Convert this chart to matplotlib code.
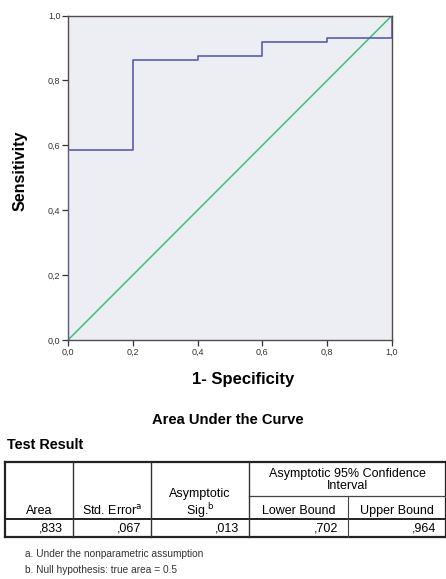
import matplotlib.pyplot as plt
from matplotlib.ticker import FuncFormatter

plt.rcParams['font.family'] = ['Liberation Sans', 'DejaVu Sans']

# ROC curve points (1 - specificity, sensitivity)
fpr = [0.0, 0.0, 0.2, 0.4, 0.6, 0.8, 1.0]
tpr = [0.0, 0.586, 0.862, 0.875, 0.917, 0.931, 1.0]
ticks = [0.0, 0.2, 0.4, 0.6, 0.8, 1.0]

# AUC table
col_heads = ['Area', 'Std. Error', 'Asymptotic\nSig.', 'Lower Bound', 'Upper Bound']
col_sup = ['', 'a', 'b', '', '']
ci_head = 'Asymptotic 95% Confidence\nInterval'
row_vals = [',833', ',067', ',013', ',702', ',964']
footnotes = ['a. Under the nonparametric assumption',
             'b. Null hypothesis: true area = 0.5']

W, H = 446, 579
fig = plt.figure(figsize=(W / 100, H / 100), dpi=100)

def px(x0, y0, x1, y1):
    return [x0 / W, 1 - y1 / H, (x1 - x0) / W, (y1 - y0) / H]

ax = fig.add_axes(px(68, 15.5, 392, 340))
ax.set_facecolor('#eceef3')
ax.plot([0, 1], [0, 1], color='#3cbf78', lw=1.1, zorder=2)
ax.step(fpr, tpr, where='post', color='#5c5cb0', lw=1.2, zorder=3)
ax.set_xlim(0, 1)
ax.set_ylim(0, 1)
ax.set_xticks(ticks)
ax.set_yticks(ticks)
comma = FuncFormatter(lambda v, p: f'{v:.1f}'.replace('.', ','))
ax.xaxis.set_major_formatter(comma)
ax.yaxis.set_major_formatter(comma)
ax.tick_params(labelsize=6.5, colors='#333333', length=4, width=0.9, pad=1.5)
for s in ax.spines.values():
    s.set_color('#554b4b')
    s.set_linewidth(1.0)
ax.set_xlabel('1- Specificity', fontsize=12, fontweight='bold')
ax.set_ylabel('Sensitivity', fontsize=11.5, fontweight='bold')
ax.xaxis.set_label_coords(0.54, -0.1)
ax.yaxis.set_label_coords(-0.125, 0.52)

# table drawn in pixel space
tb = fig.add_axes([0, 0, 1, 1])
tb.set_xlim(0, W)
tb.set_ylim(H, 0)
tb.axis('off')
tb.patch.set_visible(False)

tb.text(228, 420, 'Area Under the Curve', ha='center', va='center',
        fontsize=10.6, fontweight='bold')
tb.text(7, 445, 'Test Result', ha='left', va='center',
        fontsize=10.4, fontweight='bold')

xs = [5, 73, 151, 249, 348, 446]
y_top, y_sub, y_head, y_row = 462, 496, 519, 537
lc = '#222222'
# outer frame
tb.plot([xs[0], xs[-1]], [y_top, y_top], color=lc, lw=1.6)
tb.plot([xs[0], xs[-1]], [y_row, y_row], color=lc, lw=1.6)
tb.plot([xs[0], xs[0]], [y_top, y_row], color=lc, lw=1.6)
tb.plot([xs[-1] - 0.5, xs[-1] - 0.5], [y_top, y_row], color=lc, lw=1.6)
tb.plot([xs[0], xs[-1]], [y_head, y_head], color=lc, lw=1.4)
tb.plot([xs[3], xs[-1]], [y_sub, y_sub], color='#444444', lw=0.9)
for x in xs[1:4]:
    tb.plot([x, x], [y_top, y_row], color='#333333', lw=1.0)
tb.plot([xs[4], xs[4]], [y_sub, y_row], color='#444444', lw=0.8)

fs = 9
tb.text((xs[3] + xs[5]) / 2, 480, ci_head, ha='center', va='center',
        fontsize=fs, linespacing=1.05)
head_y = [511, 511, 504, 511, 511]
for i, h in enumerate(col_heads):
    cx = (xs[i] + xs[i + 1]) / 2
    label = h
    if col_sup[i]:
        label = h + r'$^{\mathrm{' + col_sup[i] + '}}$'
    tb.text(cx, head_y[i], label, ha='center', va='center', fontsize=fs,
            linespacing=1.05)
for i, v in enumerate(row_vals):
    tb.text(xs[i + 1] - 10, 528.5, v, ha='right', va='center', fontsize=fs)

tb.text(25, 554, footnotes[0], ha='left', va='center', fontsize=7.3,
        color='#333333')
tb.text(25, 570, footnotes[1], ha='left', va='center', fontsize=7.3,
        color='#333333')

fig.savefig('out.png', dpi=100)
